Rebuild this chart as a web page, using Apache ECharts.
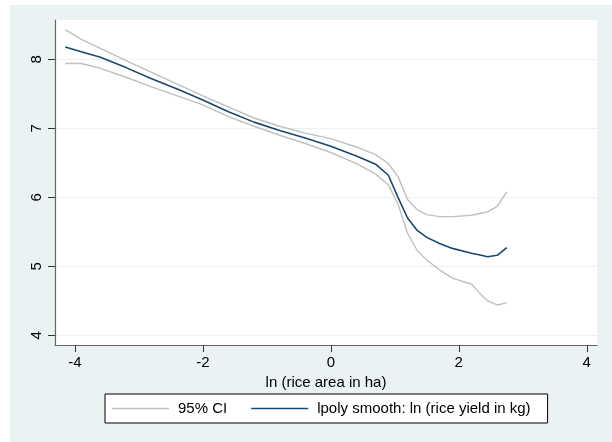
<!DOCTYPE html>
<html>
<head>
<meta charset="utf-8">
<script src="https://cdn.jsdelivr.net/npm/echarts@6/dist/echarts.min.js"></script>
<style>
    html, body {margin: 0; padding: 0; background: #fff;}
    #main {width: 612px; height: 442px;}
</style>
</head>
<body>
<div id="main"></div>
<script>
// ln(rice area in ha) grid
var areaLn = [-4.15, -3.9, -3.6, -3.2, -2.8, -2.4, -2.0, -1.6, -1.2, -0.8, -0.4, 0, 0.4, 0.7, 0.9, 1.05, 1.2, 1.35, 1.5, 1.7, 1.9, 2.2, 2.35, 2.45, 2.6, 2.75];
// lpoly smooth: ln(rice yield in kg)
var yieldFit = [8.18, 8.11, 8.03, 7.88, 7.72, 7.57, 7.41, 7.24, 7.09, 6.97, 6.86, 6.74, 6.60, 6.48, 6.32, 6.00, 5.70, 5.52, 5.42, 5.33, 5.26, 5.19, 5.16, 5.14, 5.16, 5.27];
var ciUpper = [8.43, 8.29, 8.16, 7.98, 7.81, 7.64, 7.47, 7.31, 7.15, 7.03, 6.93, 6.85, 6.73, 6.62, 6.49, 6.30, 5.97, 5.82, 5.75, 5.72, 5.72, 5.74, 5.77, 5.79, 5.87, 6.08];
var ciLower = [7.94, 7.94, 7.87, 7.74, 7.60, 7.47, 7.34, 7.17, 7.03, 6.90, 6.78, 6.65, 6.49, 6.34, 6.18, 5.90, 5.48, 5.23, 5.09, 4.95, 4.83, 4.74, 4.59, 4.50, 4.44, 4.47];

var xTicks = [-4, -2, 0, 2, 4];
var yTicks = [4, 5, 6, 7, 8];

function pairs(xs, ys) {
    var out = [];
    for (var i = 0; i < xs.length; i++) {
        out.push([xs[i], ys[i]]);
    }
    return out;
}

var font = "'Liberation Sans', Arial, Helvetica, sans-serif";
var bg = '#eaf2f3';
// thin line for legend keys
var keyIcon = 'path://M0,0H57V1.5H0Z';

var myChart = echarts.init(document.getElementById('main'));
var option = {
    backgroundColor: '#fff',
    animation: false,
    textStyle: {fontFamily: font, color: '#000'},
    graphic: [
        {type: 'rect', shape: {x: 10, y: 5, width: 602, height: 437}, style: {fill: bg}, z: -10, silent: true}
    ],
    grid: {
        left: 55, top: 20, right: 15, bottom: 97,
        show: true, backgroundColor: '#fff', borderWidth: 0
    },
    legend: {
        left: 105, top: 394,
        padding: [7, 17, 7, 7],
        itemGap: 24,
        itemWidth: 57, itemHeight: 14,
        borderColor: '#000', borderWidth: 1,
        backgroundColor: '#fff',
        borderRadius: 0,
        textStyle: {fontFamily: font, fontSize: 15, color: '#000', padding: [0, 0, 0, 4]},
        data: [
            {name: '95% CI', icon: keyIcon},
            {name: 'lpoly smooth: ln (rice yield in kg)', icon: keyIcon}
        ]
    },
    xAxis: {
        type: 'value',
        min: -4.31, max: 4.16,
        name: 'ln (rice area in ha)',
        nameLocation: 'middle',
        nameGap: 29,
        nameTextStyle: {fontFamily: font, fontSize: 15, color: '#000'},
        axisLine: {onZero: false, lineStyle: {color: '#666', width: 1.2}},
        axisTick: {length: 7, customValues: xTicks, lineStyle: {color: '#333'}},
        axisLabel: {customValues: xTicks, margin: 10, fontSize: 15, color: '#000', fontFamily: font},
        splitLine: {show: false}
    },
    yAxis: {
        type: 'value',
        min: 3.86, max: 8.57,
        axisLine: {show: true, onZero: false, lineStyle: {color: '#666', width: 1.2}},
        axisTick: {show: true, length: 7, customValues: yTicks, lineStyle: {color: '#333'}},
        axisLabel: {customValues: yTicks, rotate: 90, margin: 11, fontSize: 15, color: '#000', fontFamily: font},
        splitLine: {show: true, lineStyle: {color: bg, width: 1}}
    },
    series: [
        {
            name: '95% CI', type: 'line', symbol: 'none', z: 2,
            lineStyle: {color: '#c0c0c0', width: 1.4},
            itemStyle: {color: '#c0c0c0'},
            data: pairs(areaLn, ciUpper)
        },
        {
            name: '95% CI', type: 'line', symbol: 'none', z: 2,
            lineStyle: {color: '#c0c0c0', width: 1.4},
            itemStyle: {color: '#c0c0c0'},
            data: pairs(areaLn, ciLower)
        },
        {
            name: 'lpoly smooth: ln (rice yield in kg)', type: 'line', symbol: 'none', z: 3,
            lineStyle: {color: '#1a476f', width: 1.6},
            itemStyle: {color: '#1a476f'},
            data: pairs(areaLn, yieldFit)
        }
    ]
};
myChart.setOption(option);
</script>
</body>
</html>
